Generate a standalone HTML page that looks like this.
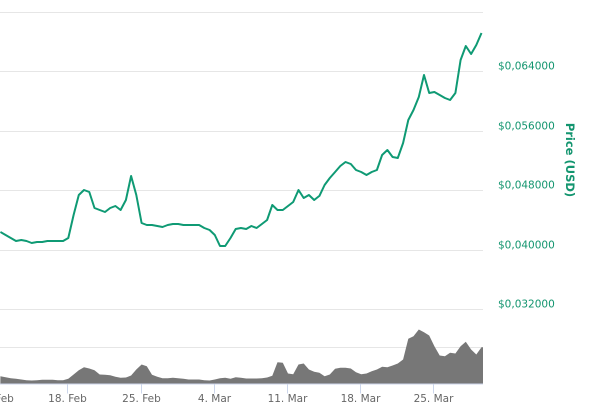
<!DOCTYPE html>
<html><head><meta charset="utf-8">
<style>
html,body{margin:0;padding:0;background:#fff;width:602px;height:417px;overflow:hidden}
svg{display:block;font-family:"DejaVu Sans","Liberation Sans",sans-serif}
</style></head>
<body>
<svg id="chart" width="602" height="417" viewBox="0 0 602 417"></svg>
<script>
// ---- data ----
const startDay = 11.6;      // day offset from 1 Feb (Feb day number)
const stepDays = 0.5;
const prices = [0.04235,0.04195,0.04155,0.04114,0.04128,0.04114,0.04087,0.04101,0.04101,0.04114,0.04114,0.04114,0.04114,0.04155,0.04464,0.04733,0.04800,0.04773,0.04558,0.04531,0.04504,0.04558,0.04585,0.04531,0.04666,0.04988,0.04733,0.04356,0.04329,0.04329,0.04316,0.04302,0.04329,0.04343,0.04343,0.04329,0.04329,0.04329,0.04329,0.04289,0.04262,0.04195,0.04047,0.04047,0.04155,0.04276,0.04289,0.04276,0.04316,0.04289,0.04343,0.04397,0.04598,0.04531,0.04531,0.04585,0.04639,0.04800,0.04692,0.04733,0.04666,0.04720,0.04867,0.04961,0.05042,0.05123,0.05177,0.05150,0.05069,0.05042,0.05002,0.05042,0.05069,0.05271,0.05338,0.05244,0.05230,0.05432,0.05741,0.05876,0.06050,0.06346,0.06104,0.06118,0.06077,0.06037,0.06010,0.06104,0.06548,0.06736,0.06629,0.06750,0.06911];
const volumes = [7.3,6.3,5.3,4.7,4,3.3,3,3.3,3.7,3.7,3.7,3.3,3.3,4.7,9,13.3,16.3,15,13.3,9,8.7,8.3,6.7,5.7,6,8,14,19,17.3,8.7,6.7,5.3,5.3,5.7,5.3,4.7,4,4,4,3.3,3,4,5.3,5.7,4.7,6.3,5.7,5,5,5,5.3,6,7.7,21.3,20.7,10,9.3,19,20,14,11.7,10.7,7.3,9,14.7,15.7,15.7,15,11.3,9.3,10,12.3,14,16.7,16.3,18,20,24,44.7,47.3,54,51.3,48,37.3,28,27.3,30.7,30,37.3,41.7,34,29,36.3];
const priceTicks = [0.032,0.040,0.048,0.056,0.064,0.072];
const dateTickDays = [11,18,25,32,39,46,53];
const dateTickLabels = ["11. Feb","18. Feb","25. Feb","4. Mar","11. Mar","18. Mar","25. Mar"];
const volumeGrid = [37];

// ---- layout ----
const plotL=0, plotR=483;
const x = d => 67.3 + (d-18)*10.46;
const yP = v => 71 + (0.064 - v)/0.008*59.5;
const volBase = 383.5;
const yV = v => volBase - v;

const NS="http://www.w3.org/2000/svg";
const svg=document.getElementById('chart');
function mk(tag,attrs){const e=document.createElementNS(NS,tag);for(const k in attrs)e.setAttribute(k,attrs[k]);svg.appendChild(e);return e;}

// price gridlines + labels
priceTicks.forEach(t=>{
  const y=Math.round(yP(t))+0.5;
  const g=mk('line',{x1:plotL,x2:plotR,y1:y,y2:y,stroke:'#e6e6e6','stroke-width':1});
  
  
  if(t<0.07){
    const tx=mk('text',{x:498,y:y-2,fill:'#13956f','font-size':10.5});
    tx.textContent='$'+t.toFixed(6).replace('.',',');
    
    
  }
});
const at=mk('text',{x:0,y:0,fill:'#13956f','font-size':11.5,'font-weight':'bold',transform:'translate(566,160) rotate(90)','text-anchor':'middle'});
at.textContent='Price (USD)';



// volume panel grid
volumeGrid.forEach(v=>{
  const y=Math.round(yV(v))+0.5;
  const g=mk('line',{x1:plotL,x2:plotR,y1:y,y2:y,stroke:'#e6e6e6','stroke-width':1});
  
  
});

// volume area
let vd='M'+x(startDay)+','+volBase;
volumes.forEach((v,i)=>{vd+=' L'+x(startDay+i*stepDays).toFixed(1)+','+yV(v).toFixed(1);});
vd+=' L'+plotR+','+yV(volumes[volumes.length-1]).toFixed(1)+' L'+plotR+','+volBase+' Z';
const va=mk('path',{d:vd,fill:'#777777',stroke:'none'});



// x axis line
const xa=mk('line',{x1:plotL,x2:plotR,y1:volBase+0.5,y2:volBase+0.5,stroke:'#ccd6eb','stroke-width':1});



// date ticks
dateTickDays.forEach((d,i)=>{
  const xx=Math.round(x(d))+0.5;
  const tk=mk('line',{x1:xx,x2:xx,y1:volBase,y2:volBase+10,stroke:'#ccd6eb','stroke-width':1});
  
  
  const tx=mk('text',{x:xx,y:402,fill:'#666','font-size':10.5,'text-anchor':'middle'});
  tx.textContent=dateTickLabels[i];
  
  
});

// price line
let pd='';
prices.forEach((p,i)=>{pd+=(i?' L':'M')+x(startDay+i*stepDays).toFixed(1)+','+yP(p).toFixed(1);});
const pl=mk('path',{d:pd,fill:'none',stroke:'#0f9a74','stroke-width':2,'stroke-linejoin':'round'});


</script>
</body></html>
